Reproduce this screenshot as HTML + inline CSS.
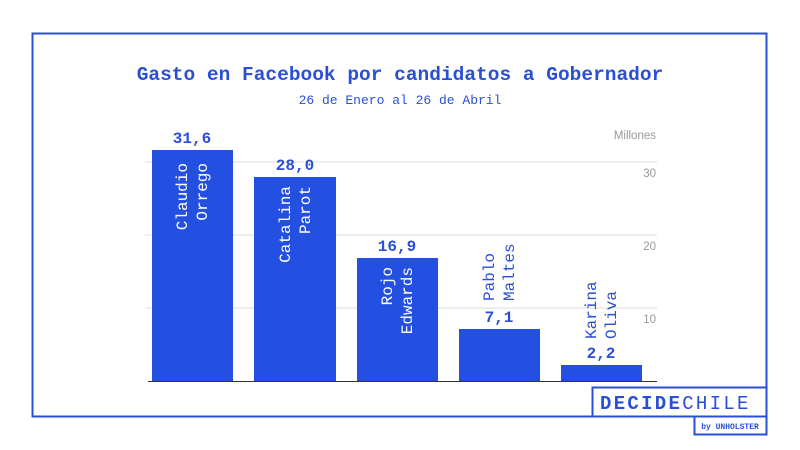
<!DOCTYPE html>
<html><head><meta charset="utf-8"><style>
html,body{margin:0;padding:0;background:#fff;width:800px;height:450px;overflow:hidden}
</style></head><body>
<svg width="800" height="450" viewBox="0 0 800 450" xmlns="http://www.w3.org/2000/svg">
<rect x="0" y="0" width="800" height="450" fill="#fff"/>
<rect x="32.5" y="33.5" width="734" height="383" fill="none" stroke="#2a4fd6" stroke-width="2"/>
<text x="400" y="80" text-anchor="middle" font-family="Liberation Mono, monospace" font-weight="bold" font-size="19.5" fill="#2a4fd6">Gasto en Facebook por candidatos a Gobernador</text>
<text x="400" y="104" text-anchor="middle" font-family="Liberation Mono, monospace" font-size="13" fill="#2a4fd6">26 de Enero al 26 de Abril</text>
<g stroke="#ddd" stroke-width="1">
<line x1="145" y1="162" x2="657" y2="162"/>
<line x1="145" y1="235" x2="657" y2="235"/>
<line x1="145" y1="308" x2="657" y2="308"/>
</g>
<g font-family="Liberation Sans, sans-serif" font-size="11.5" fill="#9a9a9a" text-anchor="end">
<text x="656" y="139">Millones</text>
<text x="656" y="177">30</text>
<text x="656" y="250">20</text>
<text x="656" y="323">10</text>
</g>
<g fill="#2350e0">
<rect x="152" y="150" width="81" height="231"/>
<rect x="254" y="177" width="82" height="204"/>
<rect x="357" y="258" width="81" height="123"/>
<rect x="459" y="329" width="81" height="52"/>
<rect x="561" y="365" width="81" height="16"/>
</g>
<line x1="148" y1="381.5" x2="657" y2="381.5" stroke="#333" stroke-width="1"/>
<g font-family="Liberation Mono, monospace" font-weight="bold" font-size="16" fill="#2a4fd6" text-anchor="middle">
<text x="192" y="143">31,6</text>
<text x="295" y="170">28,0</text>
<text x="397" y="251">16,9</text>
<text x="499" y="322">7,1</text>
<text x="601" y="358">2,2</text>
</g>
<g font-family="Liberation Mono, monospace" font-size="16" fill="#fff">
<text transform="translate(187,163) rotate(-90)" text-anchor="end">Claudio</text>
<text transform="translate(207,163) rotate(-90)" text-anchor="end">Orrego</text>
<text transform="translate(290,186) rotate(-90)" text-anchor="end">Catalina</text>
<text transform="translate(310,186) rotate(-90)" text-anchor="end">Parot</text>
<text transform="translate(392,267) rotate(-90)" text-anchor="end">Rojo</text>
<text transform="translate(412,267) rotate(-90)" text-anchor="end">Edwards</text>
</g>
<g font-family="Liberation Mono, monospace" font-size="16" fill="#2a4fd6">
<text transform="translate(494,301) rotate(-90)">Pablo</text>
<text transform="translate(514,301) rotate(-90)">Maltes</text>
<text transform="translate(596,339) rotate(-90)">Karina</text>
<text transform="translate(616,339) rotate(-90)">Oliva</text>
</g>
<rect x="592.5" y="387.5" width="174" height="29" fill="#fff" stroke="#2a4fd6" stroke-width="2"/>
<text x="600" y="409" font-family="Liberation Mono, monospace" font-size="19" fill="#2a4fd6" letter-spacing="2.3"><tspan font-weight="bold">DECIDE</tspan>CHILE</text>
<rect x="694.5" y="416.5" width="72" height="18" fill="#fff" stroke="#2a4fd6" stroke-width="2"/>
<text x="730" y="429" text-anchor="middle" font-family="Liberation Mono, monospace" font-size="8" font-weight="bold" fill="#2a4fd6">by UNHOLSTER</text>
</svg>
</body></html>
